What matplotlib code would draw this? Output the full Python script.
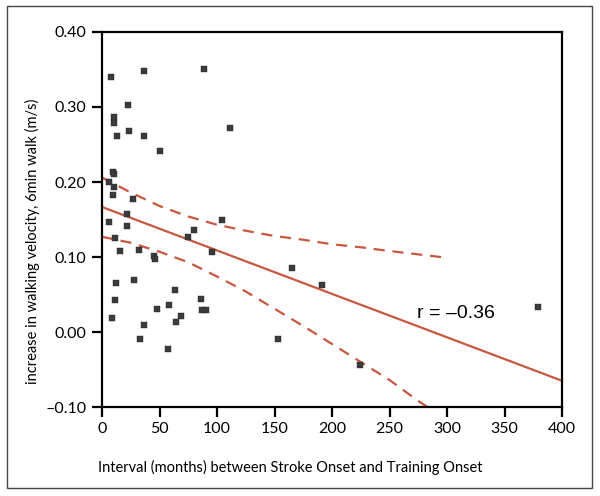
import matplotlib
matplotlib.use("Agg")
import matplotlib.pyplot as plt
from matplotlib.patches import Rectangle

# interval (months) vs increase in walking velocity (m/s)
interval_months = [8, 36.7, 88.5, 23, 10, 10.4, 13, 23.7, 36.7, 111, 50,
                   9.5, 10.2, 6, 10.4, 9.7, 27, 21.7, 21.4, 6.3, 104, 80,
                   74.8, 11, 32, 16, 95.5, 45.4, 45.7, 165.6, 191, 28,
                   12.4, 63.8, 11.4, 86.5, 47.7, 58, 69, 86.8, 90.5, 64,
                   9, 36.4, 379, 33.4, 57, 153, 224]
velocity_gain = [0.340, 0.348, 0.351, 0.303, 0.286, 0.278, 0.261, 0.268,
                 0.261, 0.272, 0.242, 0.214, 0.211, 0.200, 0.193, 0.183,
                 0.178, 0.158, 0.142, 0.147, 0.150, 0.136, 0.127, 0.125,
                 0.110, 0.108, 0.107, 0.102, 0.097, 0.086, 0.063, 0.069,
                 0.066, 0.056, 0.043, 0.044, 0.031, 0.036, 0.022, 0.030,
                 0.030, 0.014, 0.019, 0.009, 0.033, -0.009, -0.0225,
                 -0.009, -0.044]

# regression line end points
fit_x = [0, 400]
fit_y = [0.1667, -0.065]

# confidence band
band_x = [0, 25, 50, 75, 100, 125, 150, 175, 200, 225, 250, 275, 300]
band_upper = [0.206, 0.186, 0.168, 0.154, 0.143, 0.135, 0.128, 0.123,
              0.117, 0.113, 0.108, 0.1035, 0.099]
band_lower = [0.127, 0.119, 0.107, 0.093, 0.074, 0.054, 0.031, 0.008,
              -0.016, -0.040, -0.064, -0.092, -0.117]

x_ticks = [0, 50, 100, 150, 200, 250, 300, 350, 400]
y_ticks = [-0.10, 0.00, 0.10, 0.20, 0.30, 0.40]

red = '#c8573f'
font = ['Lato', 'DejaVu Sans']

fig = plt.figure(figsize=(6, 4.96), dpi=100)
ax = fig.add_axes([0.17, 0.1794, 0.7667, 0.7561])

ax.plot(fit_x, fit_y, color=red, lw=1.6, zorder=2)
ax.plot(band_x, band_upper, color=red, lw=1.6, ls=(0, (5, 3.5)), zorder=2)
ax.plot(band_x, band_lower, color=red, lw=1.6, ls=(0, (5, 3.5)), zorder=2)
ax.plot(interval_months, velocity_gain, 's', color='#3a3a3a', ms=4.5,
        mec='#2a2a2a', mew=0.3, zorder=3)

ax.text(274, 0.025, 'r = \u20130.36', fontsize=14, va='center', ha='left',
        family=['Liberation Sans', 'DejaVu Sans'])

ax.set_xlim(0, 400)
ax.set_ylim(-0.10, 0.40)
ax.set_xticks(x_ticks)
ax.set_xticklabels([str(t) for t in x_ticks], family=font, fontsize=11.5)
ax.set_yticks(y_ticks)
ax.set_yticklabels([('\u2013%.2f' % abs(t)) if t < 0 else '%.2f' % t
                    for t in y_ticks], family=font, fontsize=11.5)
ax.tick_params(direction='out', length=7, width=1.6, pad=4, colors='black')
for s in ax.spines.values():
    s.set_linewidth(1.6)

fig.text(290 / 600, 1 - 467 / 496,
         'Interval (months) between Stroke Onset and Training Onset',
         family=font, fontsize=10.5, ha='center', va='center')
fig.text(32 / 600, 1 - 241 / 496,
         'increase in walking velocity, 6min walk (m/s)',
         family=font, fontsize=10.5, ha='center', va='center', rotation=90)

# outer frame round the whole figure
fig.patches.append(Rectangle((7 / 600, 8 / 496), 585 / 600, 482 / 496,
                             transform=fig.transFigure, fill=False,
                             edgecolor='#444444', lw=1.0))

fig.savefig('out.png', dpi=100)
